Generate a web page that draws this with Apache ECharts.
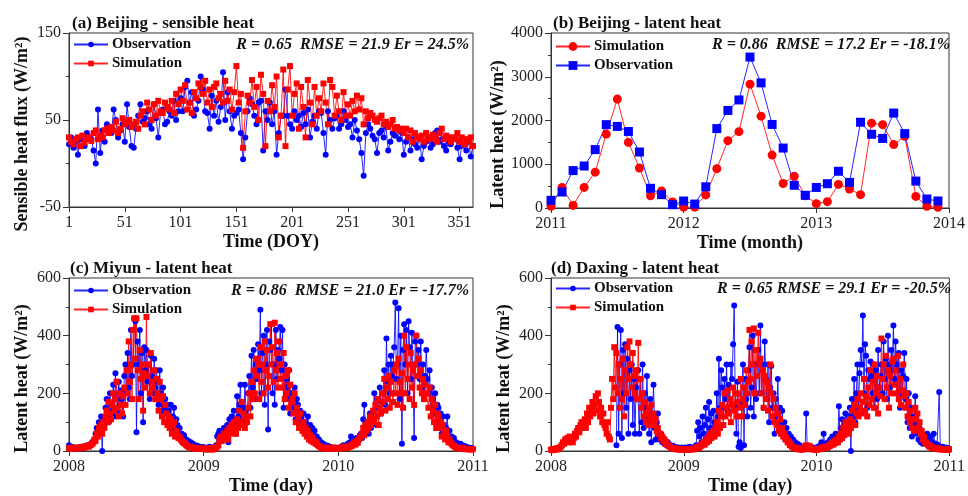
<!DOCTYPE html>
<html>
<head>
<meta charset="utf-8">
<title>Surface heat flux: observation vs simulation</title>
<script src="https://cdn.jsdelivr.net/npm/echarts@6/dist/echarts.min.js"></script>
<style>
  html, body { margin: 0; padding: 0; background: #fff; }
  #chart { width: 968px; height: 496px; }
</style>
</head>
<body>
<div id="chart"></div>
<script>
// (a) Beijing sensible heat flux, W/m2, every second day from DOY 1 to DOY 363
const bjShObs = [
  22,30,18,25,10,28,32,20,35,30,28,15,0,62,12,
  38,25,45,40,35,62,50,30,38,45,25,68,42,20,18,
  40,55,68,48,52,60,45,40,68,52,30,58,62,45,48,60,55,72,50,60,
  75,60,88,95,70,82,55,62,72,100,85,60,58,40,78,55,72,48,65,105,50,82,60,40,55,
  58,62,35,5,30,60,75,68,55,45,70,72,15,60,50,70,45,60,10,35,55,55,85,55,45,
  40,60,50,55,42,58,45,62,30,48,55,40,60,58,35,10,60,50,40,52,55,40,45,60,50,
  42,45,30,50,38,28,12,-14,35,45,40,32,28,12,35,38,30,42,15,25,35,32,40,28,36,
  10,25,30,15,28,22,18,30,5,20,25,30,18,22,35,38,25,28,20,15,25,22,28,30,18,5,20,22,15,25,8,20
];
const bjShSim = [
  30,25,22,28,30,20,32,24,28,30,26,35,38,28,32,
  30,38,40,35,42,38,48,35,40,52,45,48,50,42,45,
  48,40,55,60,45,70,62,50,68,55,72,60,58,70,65,62,72,58,80,68,
  85,72,90,62,70,58,82,75,92,88,80,95,70,85,65,88,92,75,80,70,95,72,85,62,82,
  112,70,80,18,60,78,70,96,65,88,50,102,80,20,72,60,90,65,100,30,55,108,20,85,112,
  55,80,92,40,88,65,30,96,70,45,88,55,75,60,92,70,45,96,88,55,78,60,50,82,55,
  68,55,72,60,78,62,75,45,60,52,58,55,50,48,52,55,45,48,42,45,50,40,42,38,40,
  35,40,30,38,25,35,30,28,32,25,35,30,28,33,30,25,35,40,28,32,30,25,30,28,35,25,30,22,28,25,30,20
];

// (b) Beijing latent heat, monthly totals Jan 2011 - Dec 2013
const bjLhSim = [
  40,470,60,470,820,1690,2490,1500,915,280,390,140,
  20,20,300,900,1540,1745,2830,2100,1210,560,725,280,
  100,145,540,435,305,1940,1905,1450,1640,265,40,15
];
const bjLhObs = [
  175,365,855,960,1335,1905,1865,1750,1280,450,305,75,
  160,90,485,1815,2230,2470,3450,2860,1910,1370,520,290,
  470,555,840,585,1960,1685,1590,2170,1700,615,205,160
];

// (c) Miyun latent heat, W/m2, every third day from 1 Jan 2008 (one row per month)
const miyunObs = [
  // 2008
  20,15,12,14,10,12,8,10,12,10,
  12,10,14,15,12,18,16,20,18,22,
  25,30,28,40,60,80,55,100,75,120,
  0,110,90,150,180,120,100,200,160,140,
  230,120,270,180,140,240,160,210,180,120,
  260,300,200,340,220,180,420,260,300,460,
  450,65,380,300,420,200,340,100,360,280,
  350,240,300,180,330,260,200,320,220,280,
  240,160,280,200,130,220,150,180,100,160,
  140,100,160,80,120,150,70,110,90,60,
  80,50,60,45,55,35,40,30,35,25,
  30,22,25,18,20,15,18,12,15,10,12,14,
  // 2009
  10,12,8,10,12,15,10,8,12,10,
  15,20,50,60,70,40,55,65,80,45,
  60,90,30,110,70,120,80,140,100,60,
  190,120,160,230,100,150,90,230,140,120,
  200,260,150,330,220,350,180,300,250,370,
  280,490,200,340,400,160,300,420,75,380,
  350,440,200,300,160,420,250,350,320,430,
  280,420,150,300,220,250,180,280,130,200,
  200,150,220,110,180,160,90,140,120,100,
  130,80,100,70,120,60,90,50,80,60,
  70,40,50,30,40,25,30,20,25,18,
  20,15,18,12,15,10,12,8,10,12,10,8,
  // 2010
  10,12,15,10,20,15,12,18,25,15,
  30,50,20,35,40,25,45,30,40,55,
  60,45,110,160,70,90,100,60,130,80,
  100,140,200,120,90,180,150,220,130,170,
  200,280,160,390,240,300,200,330,260,300,
  360,515,250,300,495,180,400,25,350,440,
  300,420,200,450,360,250,410,280,45,380,
  400,300,350,250,380,220,300,180,260,350,
  250,200,280,150,220,180,130,200,100,160,
  150,100,130,60,120,90,50,80,120,40,
  70,40,50,30,45,25,30,20,25,18,
  25,20,15,18,12,15,10,12,10,8,10,8
];
const miyunSim = [
  // 2008
  10,8,10,12,9,10,8,11,10,12,
  12,10,13,15,12,14,16,18,15,20,
  22,25,30,40,35,60,50,80,70,90,
  60,100,80,120,140,100,170,130,110,160,
  200,140,180,240,150,120,200,160,130,190,
  220,160,280,200,380,240,300,180,420,460,
  320,460,280,180,350,250,300,140,270,220,
  465,260,300,200,340,240,220,280,180,250,
  200,140,240,180,120,190,100,160,130,90,
  120,80,110,60,90,100,50,70,60,45,
  50,40,35,30,28,25,20,18,15,12,
  15,12,10,12,8,10,8,9,10,8,7,8,
  // 2009
  8,6,5,8,6,10,8,5,6,8,
  10,12,15,20,40,50,35,45,60,40,
  50,70,40,80,60,90,70,100,80,60,
  110,80,140,100,170,90,130,80,120,100,
  150,200,120,240,180,280,200,320,260,300,
  180,360,240,300,200,380,280,350,220,260,
  440,300,360,240,445,280,340,220,380,250,
  300,220,340,180,260,200,280,150,230,170,
  180,130,200,100,150,120,80,130,90,70,
  100,60,80,50,70,40,55,35,45,30,
  35,25,30,20,18,15,12,10,12,10,
  10,8,12,9,10,8,10,12,8,10,9,8,
  // 2010
  8,10,12,10,15,12,14,10,12,15,
  15,20,18,25,30,22,35,28,40,50,
  45,60,80,55,90,70,100,80,120,90,
  110,140,100,160,120,180,90,150,130,200,
  170,250,140,220,180,260,150,240,200,170,
  280,200,300,160,320,240,200,270,150,400,
  200,360,250,300,180,340,220,280,160,300,
  400,260,320,220,280,200,250,180,230,200,
  200,150,220,120,180,140,100,160,80,130,
  120,80,100,50,90,60,40,70,50,30,
  40,30,25,20,18,15,12,10,12,10,
  10,8,10,7,8,6,8,7,6,5,7,6
];

// (d) Daxing latent heat, W/m2, every third day from 1 Jan 2008; null = no measurement
const daxingObs = [
  // 2008
  null,null,null,null,null,null,null,null,null,null,
  null,null,null,null,null,null,null,null,null,null,
  null,null,null,null,null,null,null,null,null,null,
  null,null,null,null,null,null,null,null,null,null,
  null,null,null,null,null,null,null,null,null,null,
  null,null,null,null,null,null,null,null,null,null,
  20,430,60,300,420,45,350,200,370,150,
  320,60,280,180,300,90,250,60,220,280,
  280,60,250,100,300,80,200,150,260,120,
  60,180,30,120,230,80,40,100,130,50,
  40,60,30,45,25,35,20,30,25,20,
  15,12,18,10,14,12,10,12,10,8,12,10,
  // 2009
  10,12,8,10,12,15,10,8,12,10,
  12,20,70,100,50,80,30,120,60,90,
  150,40,110,170,80,130,60,140,100,70,
  200,120,320,150,280,220,120,250,180,300,
  140,230,180,300,250,370,505,150,60,240,
  15,30,10,170,300,20,250,180,120,280,
  360,150,220,400,120,300,180,260,350,200,
  435,200,300,150,380,250,180,300,100,220,
  295,150,200,60,180,120,250,90,150,60,
  140,70,100,40,80,50,60,30,50,25,
  40,20,30,15,25,10,20,12,15,10,
  15,10,130,8,12,10,15,8,10,12,10,8,
  // 2010
  10,15,12,20,30,15,60,25,12,20,
  30,15,40,20,50,25,35,60,40,30,
  155,50,80,110,60,90,130,70,100,120,
  150,0,180,120,250,100,200,300,150,270,
  350,300,470,200,370,330,150,280,250,310,
  260,200,300,150,280,180,350,220,260,300,
  200,380,250,320,180,400,300,220,350,280,
  435,250,380,300,200,340,150,280,200,260,
  340,180,250,100,200,80,150,50,120,90,
  190,60,100,40,80,30,60,25,50,30,
  40,60,20,35,50,15,30,60,20,25,
  15,20,205,12,10,15,8,10,12,8,10,5
];
const daxingSim = [
  // 2008
  5,3,6,4,8,5,10,8,12,15,
  20,30,25,40,35,45,30,50,40,35,
  30,45,60,50,70,80,65,90,100,80,
  90,110,80,130,100,150,120,140,170,130,
  160,190,140,200,170,120,150,100,130,90,
  80,60,100,50,40,150,250,180,360,220,
  340,200,300,150,250,180,320,120,280,200,
  360,250,380,300,220,340,260,200,280,180,
  375,180,250,150,200,120,170,100,130,90,
  150,120,160,100,130,90,110,70,80,60,
  60,45,50,35,40,25,30,20,18,15,
  12,10,8,10,7,6,8,5,6,5,6,5,
  // 2009
  5,6,4,6,5,7,5,6,8,6,
  8,10,12,15,10,20,18,25,30,22,
  40,30,50,35,60,45,55,70,50,80,
  100,60,140,80,120,160,90,200,120,150,
  210,130,180,100,160,220,140,200,120,170,
  200,150,250,120,180,220,160,280,200,240,
  420,250,380,300,425,200,350,260,410,300,
  320,200,280,150,260,180,240,140,220,300,
  200,120,180,100,150,90,130,70,110,60,
  80,50,60,40,45,30,35,20,25,15,
  15,10,12,8,10,6,8,5,6,5,
  10,15,20,12,8,18,10,6,8,5,6,4,
  // 2010
  5,8,6,10,8,12,10,15,12,10,
  15,20,18,25,30,22,35,28,40,30,
  50,40,60,45,80,55,100,70,90,60,
  110,80,140,100,160,90,130,180,120,150,
  200,130,170,250,140,190,120,220,160,280,
  180,240,150,300,200,260,130,220,190,390,
  250,300,180,330,220,280,150,260,200,310,
  320,230,280,200,330,180,250,160,210,300,
  190,150,200,120,170,100,140,80,110,70,
  150,110,130,80,100,60,70,40,50,30,
  30,25,20,15,18,12,10,12,8,10,
  10,8,6,8,5,6,7,5,6,4,5,6
];

// Panel captions and fit statistics
const panelTitles = [
  '(a) Beijing - sensible heat',
  '(b) Beijing - latent heat',
  '(c) Miyun - latent heat',
  '(d) Daxing - latent heat'
];
const panelStats = [
  'R = 0.65  RMSE = 21.9 Er = 24.5%',
  'R = 0.86  RMSE = 17.2 Er = -18.1%',
  'R = 0.86  RMSE = 21.0 Er = -17.7%',
  'R = 0.65 RMSE = 29.1 Er = -20.5%'
];

// x positions derived from the sampling of each record
const toDoy = vals => vals.map((v, i) => [1 + 2 * i, v]);
const toMonth = vals => vals.map((v, i) => [2011 + i / 12, v]);
const toDay3 = vals => vals.map((v, i) => [2008 + (3 * i) / 365.25, v === null ? '-' : v]);

const BLUE = '#0000ff';
const RED = '#ff0000';
const FONT = 'Liberation Serif';
const AXIS_COLOR = '#333';

function line(name, panel, data, color, symbol, size) {
  return {
    type: 'line',
    name: name + '|' + panel,
    xAxisIndex: panel,
    yAxisIndex: panel,
    data: data,
    symbol: symbol,
    symbolSize: size,
    showSymbol: true,
    showAllSymbol: true,
    connectNulls: false,
    lineStyle: { color: color, width: 1, opacity: 0.85 },
    itemStyle: { color: color },
    emphasis: { disabled: true },
    animation: false
  };
}

const grids = [
  { left: 69, top: 33, width: 404, height: 174 },
  { left: 551, top: 33, width: 402, height: 175 },
  { left: 69, top: 278, width: 404, height: 174 },
  { left: 551, top: 278, width: 402, height: 173 }
].map(g => Object.assign({ show: true, borderColor: AXIS_COLOR, borderWidth: 1, backgroundColor: 'transparent' }, g));

const plainNumber = v => String(v);

function xAxis(panel, min, max, interval, name) {
  return {
    type: 'value', gridIndex: panel, min: min, max: max, interval: interval,
    name: name, nameLocation: 'middle', nameGap: 26,
    nameTextStyle: { fontFamily: FONT, fontWeight: 'bold', fontSize: 18, color: '#111' },
    axisLine: { show: true, onZero: false, lineStyle: { color: AXIS_COLOR, width: 1 } },
    axisTick: { show: true, length: 5, lineStyle: { color: AXIS_COLOR } },
    axisLabel: { fontFamily: FONT, fontSize: 16, color: '#222', margin: 8, showMaxLabel: panel !== 0, formatter: plainNumber },
    splitLine: { show: false }
  };
}
function yAxis(panel, min, max, interval, name, gap) {
  return {
    type: 'value', gridIndex: panel, min: min, max: max, interval: interval,
    name: name, nameLocation: 'middle', nameGap: gap,
    nameTextStyle: { fontFamily: FONT, fontWeight: 'bold', fontSize: 18, color: '#111', padding: [0, 28, 0, 0] },
    axisLine: { show: true, onZero: false, lineStyle: { color: AXIS_COLOR, width: 1 } },
    axisTick: { show: true, length: 6, lineStyle: { color: AXIS_COLOR } },
    minorTick: { show: true, splitNumber: 2, length: 3, lineStyle: { color: AXIS_COLOR } },
    axisLabel: { fontFamily: FONT, fontSize: 16, color: '#222', margin: 8, formatter: plainNumber },
    splitLine: { show: false },
    minorSplitLine: { show: false }
  };
}

function legend(panel, left, top, names, itemHeight) {
  return {
    show: true, orient: 'vertical', left: left, top: top,
    data: names.map(n => n + '|' + panel),
    itemWidth: 34, itemHeight: itemHeight, itemGap: 4, padding: 0,
    selectedMode: false,
    formatter: n => n.split('|')[0],
    textStyle: { fontFamily: FONT, fontWeight: 'bold', fontSize: 15, lineHeight: 15, color: '#111', padding: [0, 0, 0, -1] }
  };
}

const titleLefts = [72, 553, 70, 551];
const titleTops = [15, 15, 260, 260];
const statRights = [499, 18, 499, 17];
const statTops = [37, 37, 283, 281];

const titles = [];
panelTitles.forEach((t, i) => titles.push({
  text: t, left: titleLefts[i], top: titleTops[i], padding: 0,
  textStyle: { fontFamily: FONT, fontWeight: 'bold', fontSize: 17, color: '#111' }
}));
panelStats.forEach((t, i) => titles.push({
  text: t, right: statRights[i], top: statTops[i], padding: 0,
  textStyle: { fontFamily: FONT, fontWeight: 'bold', fontStyle: 'italic', fontSize: 16, color: '#111' }
}));

const option = {
  animation: false,
  backgroundColor: '#fff',
  title: titles,
  grid: grids,
  legend: [
    legend(0, 73, 37, ['Observation', 'Simulation'], 7),
    legend(1, 555, 39, ['Simulation', 'Observation'], 11),
    legend(2, 73, 283, ['Observation', 'Simulation'], 7),
    legend(3, 555, 281, ['Observation', 'Simulation'], 7)
  ],
  xAxis: [
    xAxis(0, 1, 363, 50, 'Time (DOY)'),
    xAxis(1, 2011, 2014, 1, 'Time (month)'),
    xAxis(2, 2008, 2011, 1, 'Time (day)'),
    xAxis(3, 2008, 2011, 1, 'Time (day)')
  ],
  yAxis: [
    yAxis(0, -50, 150, 100, 'Sensible heat flux (W/m²)', 38),
    yAxis(1, 0, 4000, 1000, 'Latent heat (W/m²)', 42),
    yAxis(2, 0, 600, 200, 'Latent heat (W/m²)', 38),
    yAxis(3, 0, 600, 200, 'Latent heat (W/m²)', 38)
  ],
  series: [
    line('Observation', 0, toDoy(bjShObs), BLUE, 'circle', 6),
    line('Simulation', 0, toDoy(bjShSim), RED, 'rect', 6),
    line('Simulation', 1, toMonth(bjLhSim), RED, 'circle', 9),
    line('Observation', 1, toMonth(bjLhObs), BLUE, 'rect', 9),
    line('Observation', 2, toDay3(miyunObs), BLUE, 'circle', 6),
    line('Simulation', 2, toDay3(miyunSim), RED, 'rect', 6),
    line('Observation', 3, toDay3(daxingObs), BLUE, 'circle', 6),
    line('Simulation', 3, toDay3(daxingSim), RED, 'rect', 6)
  ]
};

const chart = echarts.init(document.getElementById('chart'), null, { renderer: 'canvas' });
chart.setOption(option);
</script>
</body>
</html>
